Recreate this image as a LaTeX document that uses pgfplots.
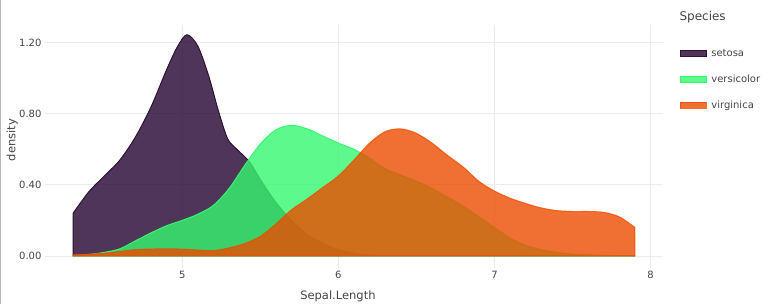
\documentclass[border=0pt]{standalone}
\usepackage{pgfplots}
\pgfplotsset{compat=1.18}
\usepackage{fontspec}
\setmainfont{DejaVu Sans}
\definecolor{setf}{HTML}{23032E}
\definecolor{setl}{HTML}{2E1236}
\definecolor{verf}{HTML}{36F76F}
\definecolor{virf}{HTML}{EC4C00}
\definecolor{gridc}{HTML}{EBEBEB}
\definecolor{txt}{HTML}{444444}
\begin{document}
\begin{tikzpicture}[x=1pt,y=1pt]
\path[use as bounding box] (0,0) rectangle (772,304);
\draw[gray!55,line width=1pt] (0.5,0) -- (0.5,304);
\node[anchor=west,text=txt,font=\fontsize{12}{14}\selectfont] at (676,287) {Species};
\begin{axis}[
  at={(45pt,36pt)}, anchor=south west,
  scale only axis, width=618pt, height=243pt,
  xmin=4.12, xmax=8.08, ymin=-0.068, ymax=1.30,
  axis line style={draw=none},
  major tick length=0pt,
  xtick={5,6,7,8}, ytick={0,0.4,0.8,1.2},
  yticklabel style={/pgf/number format/.cd,fixed,fixed zerofill,precision=2},
  /pgf/number format/assume math mode=true,
  ticklabel style={text=txt,font=\fontsize{10}{12}\selectfont},
  grid=major, grid style={gridc,line width=0.8pt},
  xlabel={Sepal.Length}, ylabel={density},
  label style={text=txt,font=\fontsize{11.5}{13}\selectfont},
  x label style={at={(axis description cs:0.474,-0.115)},anchor=center},
  y label style={at={(axis description cs:-0.053,0.527)},anchor=center,rotate=0},
  legend style={at={(axis description cs:1.027,0.908)},anchor=north west,draw=none,fill=none,
    font=\fontsize{10}{12}\selectfont, text=txt, row sep=14pt, inner sep=0pt,
    nodes={inner sep=1.5pt}},
  legend cell align=left,
]
\addplot[fill=setf,fill opacity=0.8,draw=setl,line width=1pt,smooth,tension=0.5,
  legend image code/.code={\filldraw[fill=setf,fill opacity=0.8,draw=setl,draw opacity=1,line width=0.5pt] (0.25pt,-2.75pt) rectangle (25.75pt,2.75pt);\path (29pt,0pt);}]
table {
x y
4.3 0.24
4.4 0.36
4.5 0.45
4.6 0.54
4.7 0.67
4.8 0.84
4.9 1.05
4.97 1.18
5.03 1.245
5.1 1.18
5.17 1.01
5.23 0.82
5.29 0.66
5.35 0.60
5.43 0.53
5.5 0.43
5.6 0.30
5.7 0.20
5.8 0.12
5.9 0.07
6.0 0.035
6.1 0.015
6.2 0.005
6.4 0.001
6.8 0
7.9 0
} \closedcycle;
\addlegendentry{setosa}
\addplot[fill=verf,fill opacity=0.8,draw=verf,line width=1pt,smooth,tension=0.5,
  legend image code/.code={\fill[fill=verf,fill opacity=0.8] (0pt,-3pt) rectangle (26pt,3pt);\path (29pt,0pt);}]
table {
x y
4.3 0.003
4.4 0.008
4.5 0.02
4.6 0.04
4.7 0.085
4.8 0.13
4.9 0.17
5.0 0.20
5.1 0.235
5.2 0.285
5.3 0.38
5.4 0.51
5.5 0.63
5.6 0.71
5.7 0.735
5.8 0.715
5.9 0.675
6.0 0.635
6.1 0.60
6.2 0.55
6.3 0.49
6.4 0.455
6.5 0.42
6.6 0.38
6.7 0.33
6.8 0.28
6.9 0.22
7.0 0.16
7.1 0.10
7.2 0.06
7.3 0.035
7.4 0.02
7.5 0.01
7.7 0.003
7.9 0.001
} \closedcycle;
\addlegendentry{versicolor}
\addplot[fill=virf,fill opacity=0.8,draw=virf,draw opacity=0.8,line width=1pt,smooth,tension=0.5,
  legend image code/.code={\fill[fill=virf,fill opacity=0.8] (0pt,-3pt) rectangle (26pt,3pt);\path (29pt,0pt);}]
table {
x y
4.3 0.005
4.5 0.015
4.7 0.035
4.9 0.04
5.0 0.038
5.1 0.033
5.2 0.03
5.3 0.045
5.4 0.07
5.5 0.11
5.6 0.18
5.7 0.26
5.8 0.32
5.9 0.385
6.0 0.45
6.1 0.54
6.2 0.635
6.3 0.70
6.4 0.715
6.5 0.69
6.6 0.635
6.7 0.565
6.8 0.50
6.9 0.42
7.0 0.365
7.1 0.325
7.2 0.295
7.3 0.27
7.4 0.255
7.5 0.25
7.6 0.25
7.7 0.245
7.8 0.22
7.9 0.16
} \closedcycle;
\addlegendentry{virginica}
\end{axis}
\end{tikzpicture}
\end{document}
